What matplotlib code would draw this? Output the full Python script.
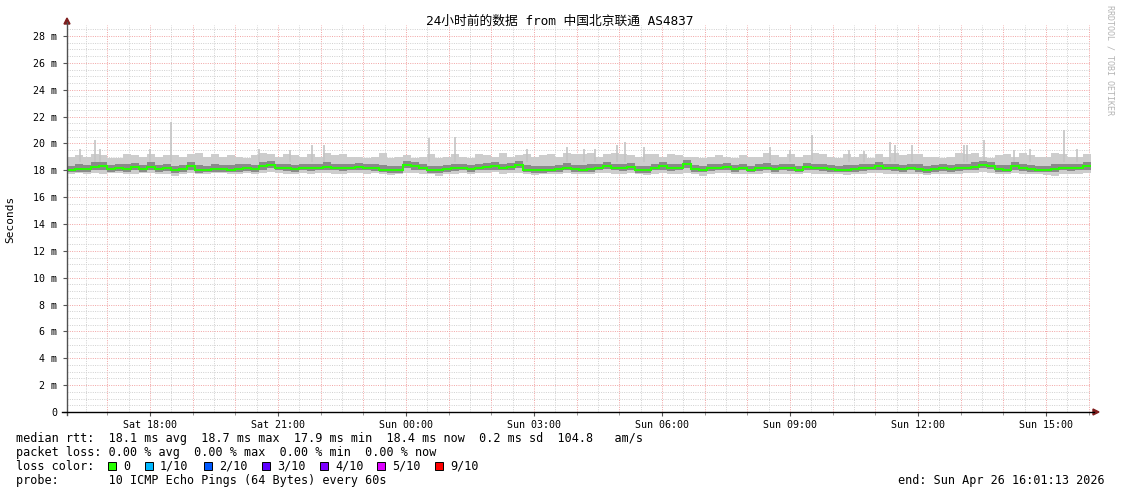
import numpy as np
import matplotlib
matplotlib.use("Agg")
import matplotlib.pyplot as plt
from matplotlib.patches import Rectangle, Polygon
from matplotlib.lines import Line2D

# ---------------- data (ms, hours since Sat 00:00) ----------------
bin_start = 16.055          # first bin start (hours since Sat 00:00)
bin_width = 0.1875          # hours per bin

median_ms = [18.05,18.1,18.1,18.25,18.3,18.1,18.15,18.1,18.25,18.1,18.25,18.1,18.15,18.0,18.1,18.3,18.0,18.05,18.1,18.1,18.05,18.1,18.15,18.1,18.3,18.4,
             18.2,18.15,18.1,18.2,18.15,18.2,18.25,18.2,18.15,18.2,18.25,18.2,18.15,18.05,18.0,18.0,18.4,18.3,18.2,18.0,18.0,18.1,18.15,18.2,18.1,
             18.2,18.25,18.3,18.2,18.25,18.4,18.05,18.0,18.0,18.05,18.1,18.2,18.1,18.05,18.1,18.2,18.35,18.2,18.15,18.25,18.0,18.0,18.2,18.3,18.15,18.2,
             18.5,18.1,18.05,18.15,18.2,18.25,18.1,18.2,18.05,18.15,18.2,18.1,18.2,18.15,18.05,18.25,18.2,18.15,18.1,18.05,18.05,18.1,18.15,18.2,18.3,18.2,
             18.15,18.1,18.2,18.1,18.0,18.1,18.15,18.1,18.15,18.2,18.25,18.4,18.35,18.1,18.05,18.3,18.15,18.1,18.05,18.05,18.1,18.2,18.15,18.2,18.35]

max_ms = [19.0,19.1,19.0,19.2,19.1,18.9,18.9,19.2,19.1,19.0,19.2,19.0,19.1,19.1,19.0,19.2,19.3,19.0,19.2,19.0,19.1,19.0,18.9,19.1,19.3,19.2,
          19.0,19.2,19.1,19.0,19.2,19.0,19.3,19.1,19.2,19.0,19.0,18.9,19.0,19.3,18.9,19.0,19.1,18.9,19.0,19.2,18.9,19.0,19.2,19.0,18.9,
          19.2,19.1,19.0,19.3,19.0,19.1,19.2,19.0,19.1,19.2,19.0,19.3,19.2,19.2,19.3,19.0,19.2,19.3,19.2,19.1,19.0,19.2,19.2,19.0,19.2,19.1,
          19.0,19.0,18.9,19.0,19.1,19.0,18.9,19.1,19.0,19.0,19.3,19.1,19.0,19.2,19.0,19.1,19.3,19.2,19.0,18.9,19.2,19.0,19.2,18.9,19.2,19.0,
          19.3,19.1,19.2,19.2,19.0,19.0,18.9,19.0,19.3,19.2,19.3,19.0,18.9,19.1,19.2,19.0,19.3,19.1,19.0,19.0,19.3,19.2,19.0,19.0,19.2]

min_ms = [17.75,17.8,17.7,17.8,17.75,17.8,17.8,17.7,17.75,17.8,17.8,17.75,17.7,17.6,17.75,17.8,17.7,17.75,17.8,17.8,17.75,17.7,17.8,17.75,17.8,17.85,
          17.8,17.75,17.7,17.8,17.75,17.8,17.8,17.75,17.7,17.8,17.8,17.75,17.8,17.7,17.65,17.7,17.8,17.8,17.75,17.7,17.55,17.7,17.75,17.8,17.7,
          17.8,17.8,17.85,17.75,17.8,17.8,17.7,17.65,17.7,17.7,17.75,17.8,17.7,17.7,17.75,17.8,17.8,17.75,17.75,17.8,17.7,17.65,17.75,17.8,17.75,17.7,
          17.8,17.7,17.6,17.75,17.8,17.8,17.7,17.75,17.7,17.75,17.8,17.7,17.75,17.75,17.7,17.8,17.75,17.75,17.7,17.7,17.65,17.7,17.75,17.8,17.8,17.75,
          17.75,17.7,17.75,17.7,17.65,17.7,17.75,17.7,17.75,17.8,17.8,17.85,17.8,17.7,17.7,17.8,17.75,17.7,17.7,17.65,17.6,17.75,17.7,17.75,17.8]

q_hi_ms = [18.35,18.45,18.4,18.6,18.6,18.4,18.45,18.5,18.55,18.4,18.6,18.4,18.5,18.35,18.4,18.6,18.4,18.35,18.45,18.4,18.4,18.45,18.5,18.4,18.6,18.7,
           18.5,18.45,18.4,18.5,18.5,18.5,18.6,18.5,18.45,18.5,18.55,18.5,18.45,18.4,18.3,18.35,18.7,18.6,18.5,18.35,18.3,18.4,18.5,18.5,18.4,
           18.5,18.55,18.6,18.5,18.55,18.7,18.4,18.3,18.35,18.35,18.4,18.55,18.4,18.4,18.45,18.5,18.65,18.5,18.45,18.55,18.3,18.35,18.5,18.6,18.45,18.5,
           18.8,18.4,18.35,18.45,18.5,18.55,18.4,18.5,18.35,18.45,18.55,18.4,18.5,18.45,18.35,18.55,18.5,18.45,18.4,18.35,18.4,18.4,18.45,18.5,18.6,18.5,
           18.5,18.4,18.5,18.45,18.3,18.4,18.45,18.4,18.5,18.5,18.6,18.7,18.65,18.4,18.4,18.6,18.45,18.4,18.35,18.35,18.45,18.5,18.45,18.5,18.6]

q_lo_ms = [17.85,17.9,17.9,18.0,18.05,17.9,17.95,17.9,18.0,17.9,18.0,17.9,17.95,17.8,17.9,18.05,17.8,17.85,17.9,17.9,17.85,17.9,17.95,17.9,18.05,18.15,
           18.0,17.95,17.9,18.0,17.95,18.0,18.0,18.0,17.95,18.0,18.0,18.0,17.95,17.85,17.8,17.8,18.15,18.05,18.0,17.8,17.8,17.9,17.95,18.0,17.9,
           18.0,18.05,18.05,18.0,18.05,18.15,17.85,17.8,17.8,17.85,17.9,18.0,17.9,17.85,17.9,18.0,18.1,18.0,17.95,18.0,17.8,17.8,18.0,18.05,17.95,18.0,
           18.2,17.9,17.85,17.95,18.0,18.0,17.9,18.0,17.85,17.95,18.0,17.9,18.0,17.95,17.85,18.0,18.0,17.95,17.9,17.85,17.85,17.9,17.95,18.0,18.05,18.0,
           17.95,17.9,18.0,17.9,17.8,17.9,17.95,17.9,17.95,18.0,18.0,18.15,18.1,17.9,17.85,18.05,17.95,17.9,17.85,17.85,17.9,18.0,17.95,18.0,18.05]

spike_hours = [16.367,16.718,16.835,18.007,18.492,20.548,21.289,21.797,22.071,24.532,25.142,
               26.836,27.773,28.165,28.437,28.946,29.140,29.571,32.538,33.007,33.515,34.376,34.727,
               35.351,35.468,35.859,37.071,37.148,37.539,38.242,38.631,39.414,39.726]
spike_ms = [19.6,20.25,19.6,19.6,21.6,19.6,19.5,19.9,19.9,20.4,20.5,
            19.6,19.7,19.6,19.6,19.9,20.1,19.7,19.7,19.5,20.6,19.5,19.4,
            20.1,19.9,19.9,19.9,19.9,20.25,19.5,19.6,21.0,19.6]

x_tick_hours = [18, 21, 24, 27, 30, 33, 36, 39]
x_tick_labels = ["Sat 18:00", "Sat 21:00", "Sun 00:00", "Sun 03:00",
                 "Sun 06:00", "Sun 09:00", "Sun 12:00", "Sun 15:00"]
y_tick_values = list(range(0, 29, 2))
y_tick_labels = ["0"] + [f"{v} m" for v in range(2, 29, 2)]

title = "24小时前的数据 from 中国北京联通 AS4837"
legend_rows = [
    "median rtt:  18.1 ms avg  18.7 ms max  17.9 ms min  18.4 ms now  0.2 ms sd  104.8   am/s",
    "packet loss: 0.00 % avg  0.00 % max  0.00 % min  0.00 % now",
]
loss_labels = ["0", "1/10", "2/10", "3/10", "4/10", "5/10", "9/10"]
loss_colors = ["#26ff00", "#00b8ff", "#0059ff", "#5e00ff", "#7e00ff", "#dd00ff", "#ff0000"]
probe_text = "probe:       10 ICMP Echo Pings (64 Bytes) every 60s"
end_text = "end: Sun Apr 26 16:01:13 2026"

# ---------------- figure ----------------
W, H = 1121, 494
MONO = "DejaVu Sans Mono"
fig = plt.figure(figsize=(W / 100, H / 100), dpi=100)
fig.patch.set_facecolor("white")

def fx(px):
    return px / W

def fy(py):
    return 1 - py / H

L, R, T, B = 67, 1091, 25, 412
px_per_hour = 42.667
px_per_ms = 13.43
ax = fig.add_axes([fx(L), fy(B), (R - L) / W, (B - T) / H])
ax.set_xlim(bin_start, bin_start + (R - L) / px_per_hour)
ax.set_ylim(0, (B - T) / px_per_ms)
for s in ax.spines.values():
    s.set_visible(False)

# grid
dot = (0, (1, 1.3))
for h in np.arange(16.5, 40.1, 0.5):
    major = abs(h - round(h)) < 1e-6
    ax.axvline(h, color="#f2a8a8" if major else "#d2d2d2", lw=0.72, ls=dot, zorder=1)
for v in np.arange(0.5, 28.9, 0.5):
    major = abs(v / 2 - round(v / 2)) < 1e-6
    ax.axhline(v, color="#f2a8a8" if major else "#d2d2d2", lw=0.72, ls=dot, zorder=1)

# smoke
n = len(median_ms)
edges = bin_start + bin_width * np.arange(n + 1)
ax.stairs(max_ms, edges, baseline=min_ms, fill=True, color="#cdcdcd", zorder=2)
ax.vlines(spike_hours, 18.6, spike_ms, color="#c4c4c4", lw=1.2, zorder=2)
ax.stairs(q_hi_ms, edges, baseline=q_lo_ms, fill=True, color="#8a8a8a", zorder=3)
ax.stairs(median_ms, edges, color="#26ff00", lw=1.5, zorder=5, baseline=None)

# ticks
ax.set_xticks(x_tick_hours)
ax.set_xticklabels(x_tick_labels, fontsize=7.2, family=MONO)
ax.set_xticks(np.arange(17, 41, 1), minor=True)
ax.set_yticks(y_tick_values)
ax.set_yticklabels(y_tick_labels, fontsize=7.2, family=MONO)
ax.tick_params(axis="x", which="major", length=3, pad=3, color="#555555")
ax.tick_params(axis="x", which="minor", length=2, color="#888888")
ax.tick_params(axis="y", which="major", length=3, pad=4, color="#555555")
ax.set_facecolor("white")

# axis lines and arrows
fig.add_artist(Line2D([fx(L), fx(L)], [fy(B + 3), fy(22)], color="#505050", lw=1.0,
                      transform=fig.transFigure))
fig.add_artist(Line2D([fx(62), fx(1094)], [fy(B), fy(B)], color="#000000", lw=1.0,
                      transform=fig.transFigure))
arrow_c = "#7f1d1d"
fig.add_artist(Polygon([[fx(L - 3), fy(24)], [fx(L + 3), fy(24)], [fx(L), fy(18)]],
                       closed=True, color=arrow_c, transform=fig.transFigure))
fig.add_artist(Polygon([[fx(1093), fy(B - 3)], [fx(1093), fy(B + 3)], [fx(1099), fy(B)]],
                       closed=True, color=arrow_c, transform=fig.transFigure))

# title and labels
fig.text(fx(560), fy(21), title, ha="center", va="center", fontsize=9.2,
         family=[MONO, "Noto Sans CJK SC"], color="#000000")
fig.text(fx(10), fy(219), "Seconds", rotation=90, ha="center", va="center",
         fontsize=8, family=MONO)
fig.text(fx(1110), fy(5), "RRDTOOL / TOBI OETIKER", rotation=270, ha="center", va="top",
         fontsize=6, family=MONO, color="#b4b4b4")

# legend
fs = 8.45
fig.text(fx(16), fy(438), legend_rows[0], ha="left", va="center", fontsize=fs, family=MONO)
fig.text(fx(16), fy(452), legend_rows[1], ha="left", va="center", fontsize=fs, family=MONO)
fig.text(fx(16), fy(466), "loss color:", ha="left", va="center", fontsize=fs, family=MONO)
box_x = [108, 145, 204, 262, 320, 377, 435]
for bx, lab, col in zip(box_x, loss_labels, loss_colors):
    fig.add_artist(Rectangle((fx(bx), fy(470)), 8 / W, 8 / H, facecolor=col,
                             edgecolor="black", lw=0.7, transform=fig.transFigure))
    fig.text(fx(bx + 15), fy(466), lab, ha="left", va="center", fontsize=fs, family=MONO)
fig.text(fx(16), fy(480), probe_text, ha="left", va="center", fontsize=fs, family=MONO)
fig.text(fx(1105), fy(480), end_text, ha="right", va="center", fontsize=fs, family=MONO)

fig.savefig("out.png", dpi=100, facecolor="white")
